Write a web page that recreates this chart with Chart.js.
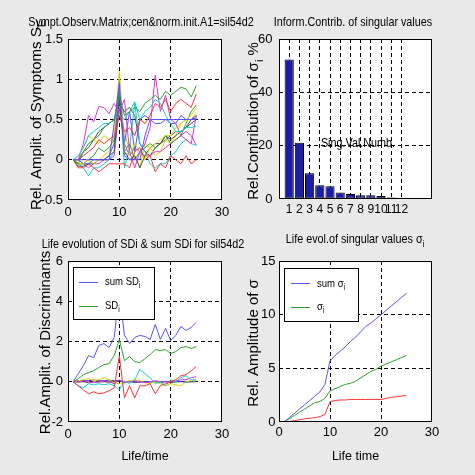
<!DOCTYPE html>
<html>
<head>
<meta charset="utf-8">
<script src="https://cdn.jsdelivr.net/npm/chart.js@4.4.1/dist/chart.umd.min.js"></script>
<style>
  html, body { margin: 0; padding: 0; background: #e9e9e9; }
  body { width: 475px; height: 475px; position: relative; overflow: hidden; }
  canvas { position: absolute; }
</style>
</head>
<body>
<canvas id="sympt" width="260" height="225" style="left:0;top:0"></canvas>
<canvas id="contrib" width="238" height="225" style="left:237px;top:0"></canvas>
<canvas id="discr" width="260" height="250" style="left:0;top:225px"></canvas>
<canvas id="sigma" width="238" height="250" style="left:237px;top:225px"></canvas>
<script>
// life time axis (x values of every line)
const lifeTime = [1, 2, 3, 4, 5, 6, 7, 8, 9, 10, 11, 12, 13, 14, 15, 16, 17, 18, 19, 20, 21, 22, 23, 24, 25];

// symptom observation matrix, one row per symptom
const symptoms = [
  [0, 0, 0, 0, 0, 0, 0, 0, 0.45, 0.95, 0.05, 0, 0, 0, 0.3, 0.5, 0.5, 0.5, 0.5, 0.5, 0.5, 0.5, 0.5, 0.5, 0.5],
  [0, -0.05, 0.1, 0.2, 0.25, 0.3, 0.4, 0.45, 0.5, 0.8, 0.55, 0.6, 0.65, 0.6, 0.7, 0.75, 0.8, 0.75, 0.85, 0.8, 0.85, 0.9, 0.88, 0.78, 0.92],
  [0, 0, 0.05, 0.1, 0.15, 0.25, 0.2, 0.25, 0.3, 0.55, 0.35, 0.4, 0.3, 0.5, 0.45, 0.55, 0.7, 0.65, 0.75, 0.6, 0.7, 0.75, 0.7, 0.65, 0.82],
  [0, 0.05, 0.15, 0.3, 0.35, 0.4, 0.45, 0.45, 0.5, 0.55, 0.5, 0.6, 0.72, 0.5, 0.6, 0.65, 0.75, 0.7, 0.55, 0.45, 0.35, 0.35, 0.4, 0.4, 0.42],
  [0, 0, 0.2, 0.55, 0.47, 0.66, 0.65, 0.57, 0.7, 0.6, 0.75, 0.1, -0.1, 0.1, 0.2, 0.4, 1.05, 0.6, 0.8, 0.5, 0.45, 0.3, 0.25, 0.2, 0.55],
  [0, -0.05, -0.05, 0, -0.05, 0, 0.05, 0.1, 0.3, 1.1, 0.1, 0.05, 0.2, 0.1, 0, 0.15, 0.2, 0.25, 0.3, 0.3, 0.4, 0.45, 0.5, 0.55, 0.65],
  [0, -0.08, -0.08, -0.05, -0.05, 0, 0, 0.05, 0.1, 0.75, 0.1, 0, 0.05, -0.1, 0.05, 0.15, 0.2, 0.2, 0.3, 0.25, 0.3, 0.35, 0.4, 0.5, 0.52],
  [0, 0, -0.05, -0.05, 0, 0, 0, 0.05, 0.2, 1.0, 0.2, 0.6, 0.1, 0.5, 0.55, 0.5, 0.45, 0.45, 0.5, 0.45, 0.45, 0.55, 0.5, 0.5, 0.55],
  [0, -0.05, -0.05, 0, 0.05, 0.15, 0.1, 0.15, 0.25, 0.85, 0.1, 0.2, 0, 0.1, 0.15, 0.2, 0.15, 0.2, 0.3, 0.2, 0.25, 0.3, 0.45, 0.6, 0.68],
  [0, -0.1, -0.1, -0.05, -0.1, -0.15, -0.1, -0.05, -0.05, -0.05, -0.05, -0.1, 0.1, 0.15, 0, 0.05, -0.15, -0.05, -0.1, 0.05, 0, -0.05, 0.05, -0.05, 0],
  [0, -0.05, -0.1, -0.2, -0.1, -0.1, -0.05, 0, 0.1, 0.9, -0.1, 0.15, 0.7, 0.2, 0.1, -0.05, -0.1, -0.05, -0.05, 0.05, 0.1, 0.2, 0.25, 0.2, 0.18],
  [0, -0.05, -0.05, -0.1, -0.05, -0.05, 0, 0, 0.05, 0.65, 0.2, 0.05, 0.15, 0.1, 0.05, 0.05, 0.1, 0.1, 0.15, 0.2, 0.25, 0.3, 0.35, 0.3, 0.18],
  [0, 0.05, 0.15, 0.3, 0.25, 0.2, 0.3, 0.25, 0.2, 0.6, 0.35, 0.1, 0.05, -0.1, 0.2, 0.15, 0.05, 0.1, 0.25, 0.2, 0.3, 0.45, 0.5, 0.5, 0.58],
  [0, 0, 0.1, 0.15, 0.25, 0.35, 0.4, 0.45, 0.5, 0.7, 0.6, 0.65, 0.55, 0.2, 0.1, 0.05, 0.15, 0.2, 0.25, 0.3, 0.35, 0.35, 0.4, 0.45, 0.5]
];

// singular value contributions in %
const singNumbers = [1, 2, 3, 4, 5, 6, 7, 8, 9, 10, 11, 12];
const singContrib = [52.3, 21.1, 9.7, 5.2, 4.8, 2.4, 1.9, 1.4, 1.4, 1.1, 0.6, 0.5];

// symptom discriminants
const sumSD = [0, 0.4, 0.8, 1.3, 1.2, 1.8, 1.9, 1.7, 2.2, 4.5, 2.3, 1.9, 2.2, 2.3, 2.25, 2.1, 2.85, 2.1, 2.65, 2.05, 2.3, 2.75, 2.55, 2.7, 2.95];
const sd1 = [0, 0.15, 0.35, 0.45, 0.55, 0.7, 0.85, 0.9, 1.3, 2.1, 1.05, 1.25, 1.0, 0.95, 1.15, 1.35, 1.6, 1.55, 1.6, 1.4, 1.5, 1.7, 1.75, 1.65, 1.75];
const sdOthers = [
  [0, -0.2, -0.4, -0.6, -0.5, -0.6, -0.55, -0.45, -0.3, 1.3, -0.8, -0.2, -0.8, -0.2, -0.2, -0.1, -0.6, -0.2, -0.1, 0, 0.1, 0.3, 0.35, 0.55, 0.75],
  [0, -0.2, -0.3, -0.1, -0.15, -0.1, -0.15, -0.1, -0.2, -0.4, 0.05, -0.1, 0.1, 0.6, 0.4, 0.2, -0.1, 0, -0.2, 0.1, 0, 0.2, 0.3, 0.1, 0.1],
  [0, 0, 0.05, 0, -0.05, 0, 0.05, 0, -0.1, 0.1, -0.05, 0, 0.05, 0, -0.05, 0, 0.05, 0, 0, 0, 0.05, 0.1, 0.1, 0.2, 0.25],
  [0, 0.05, 0.1, 0.15, 0.05, 0.1, 0.2, 0.1, -0.05, -0.1, 0, 0.05, 0.1, 0.05, -0.05, -0.1, 0, -0.1, -0.2, -0.1, -0.15, -0.2, 0, 0.05, 0.05],
  [0, 0.05, 0.05, 0.05, 0.08, 0.05, 0.05, 0.08, 0.05, 0.05, 0, 0.02, 0, -0.02, 0, 0, 0.02, 0, 0.02, 0, 0, 0.02, 0, 0, 0.02],
  [0, -0.02, 0, -0.05, 0, -0.02, 0, -0.03, 0, 0.05, -0.05, 0, -0.05, 0, 0.02, -0.02, 0, -0.05, 0, -0.05, 0, 0, -0.02, 0, 0]
];

// singular values
const sumSigma = [0, 0.4, 0.8, 1.2, 1.6, 2.0, 2.4, 2.8, 3.5, 5.7, 6.2, 6.6, 7.0, 7.5, 7.9, 8.4, 8.9, 9.2, 9.6, 10.0, 10.4, 10.8, 11.2, 11.6, 12.0];
const sigma1 = [0, 0.3, 0.6, 0.9, 1.2, 1.5, 1.8, 1.9, 2.2, 2.9, 3.1, 3.3, 3.5, 3.6, 3.8, 4.1, 4.4, 4.7, 4.9, 5.2, 5.4, 5.6, 5.8, 6.0, 6.2];
const sigma2 = [0, 0.05, 0.12, 0.2, 0.3, 0.35, 0.4, 0.5, 0.7, 1.9, 2.0, 2.05, 2.05, 2.1, 2.1, 2.1, 2.1, 2.1, 2.1, 2.1, 2.2, 2.3, 2.35, 2.4, 2.5];

const lineColors = ['#5555ff', '#2fa02f', '#ff3535', '#10d0d0', '#e035e0', '#d8d800', '#505050'];

const FONT = "'Liberation Sans', Arial, sans-serif";
const NARROW_SX = 0.83; // horizontal squeeze used for the narrow horizontal texts

function drawRich(ctx, t) {
  const size = t.size;
  const sx = t.rot ? 1 : (t.sx || NARROW_SX);
  ctx.save();
  ctx.translate(t.x, t.y);
  if (t.rot) ctx.rotate(-Math.PI / 2);
  ctx.scale(sx, 1);
  ctx.textBaseline = 'alphabetic';
  ctx.textAlign = 'left';
  ctx.fillStyle = '#000';
  const fontOf = p => (p.sub ? size * 0.72 : size) + 'px ' + FONT;
  let w = 0;
  t.parts.forEach(p => { ctx.font = fontOf(p); w += ctx.measureText(p.t).width; });
  let cx = t.left ? 0 : -w / 2;
  t.parts.forEach(p => {
    ctx.font = fontOf(p);
    ctx.fillText(p.t, cx, p.sub ? size * 0.3 : 0);
    cx += ctx.measureText(p.t).width;
  });
  ctx.restore();
}

const matlabLook = {
  id: 'matlabLook',
  beforeDraw(chart) {
    const a = chart.chartArea, ctx = chart.ctx;
    ctx.save();
    ctx.fillStyle = '#fff';
    ctx.fillRect(a.left, a.top, a.right - a.left, a.bottom - a.top);
    ctx.restore();
  },
  afterDraw(chart, args, opts) {
    const a = chart.chartArea, ctx = chart.ctx;
    ctx.save();
    ctx.strokeStyle = '#000';
    ctx.lineWidth = 1;
    ctx.strokeRect(a.left + 0.5, a.top + 0.5, a.right - a.left - 1, a.bottom - a.top - 1);
    if (opts.legend) {
      const lg = opts.legend;
      ctx.fillStyle = '#fff';
      ctx.fillRect(lg.box[0], lg.box[1], lg.box[2], lg.box[3]);
      ctx.strokeRect(lg.box[0] + 0.5, lg.box[1] + 0.5, lg.box[2], lg.box[3]);
      lg.items.forEach(it => {
        ctx.strokeStyle = it.color;
        ctx.beginPath();
        ctx.moveTo(it.x1, it.y + 0.5);
        ctx.lineTo(it.x2, it.y + 0.5);
        ctx.stroke();
        drawRich(ctx, { parts: it.parts, x: it.tx, y: it.ty, size: 11.5, left: true });
      });
    }
    ctx.restore();
    (opts.texts || []).forEach(t => drawRich(ctx, t));
  }
};

function gridOn(vals) {
  return c => (c.tick && vals.includes(c.tick.value)) ? '#000' : 'rgba(0,0,0,0)';
}

function makeChart(id, cfg) {
  const [l, t, r, b] = cfg.area;
  const canvas = document.getElementById(id);
  const w = canvas.width, h = canvas.height;
  return new Chart(canvas, {
    type: cfg.type,
    data: { datasets: cfg.datasets },
    options: {
      responsive: false,
      animation: false,
      events: [],
      layout: { padding: { left: 0, top: t, right: w - r, bottom: 0 } },
      plugins: {
        legend: { display: false },
        tooltip: { enabled: false },
        matlabLook: { texts: cfg.texts, legend: cfg.legend }
      },
      scales: {
        x: {
          type: 'linear', offset: false,
          min: cfg.x.min, max: cfg.x.max,
          ticks: { stepSize: cfg.x.step, padding: cfg.x.pad, font: { family: FONT, size: cfg.x.size || 13 },
                   color: '#000', autoSkip: false, maxRotation: 0, callback: cfg.x.label || (v => String(v)) },
          grid: { drawTicks: false, offset: false, color: gridOn(cfg.x.grid), lineWidth: 1 },
          border: { display: false, dash: [4, 3] },
          title: { display: !!cfg.xTitle, text: cfg.xTitle, color: '#000',
                   font: { family: FONT, size: 12.5 }, padding: { top: 0, bottom: 10.6 } },
          afterFit: s => { s.height = h - b; }
        },
        y: {
          min: cfg.y.min, max: cfg.y.max,
          ticks: { stepSize: cfg.y.step, padding: cfg.y.pad, font: { family: FONT, size: 13 }, color: '#000',
                   callback: v => String(v) },
          grid: { drawTicks: false, color: gridOn(cfg.y.grid), lineWidth: 1 },
          border: { display: false, dash: [4, 3] },
          afterFit: s => { s.width = l; }
        }
      }
    },
    plugins: [matlabLook]
  });
}

function lineSet(values, color) {
  return {
    data: values.map((v, i) => ({ x: lifeTime[i], y: v })),
    borderColor: color, borderWidth: 1, pointRadius: 0, tension: 0, fill: false
  };
}

// top left: symptom observation matrix
makeChart('sympt', {
  type: 'line',
  area: [68, 39, 222, 200],
  datasets: symptoms.map((s, i) => lineSet(s, lineColors[i % lineColors.length])),
  x: { min: 0, max: 30, step: 10, pad: 5, grid: [10, 20] },
  y: { min: -0.5, max: 1.5, step: 0.5, pad: 5, grid: [0, 0.5, 1] },
  texts: [
    { parts: [{ t: 'Sympt.Observ.Matrix;cen&norm.init.A1=sil54d2' }], x: 141, y: 26, size: 13 },
    { parts: [{ t: 'Rel. Amplit. of Symptoms S' }, { t: 'E', sub: true }], x: 40.5, y: 115, size: 15, rot: true }
  ]
});

// top right: information contribution of singular values
makeChart('contrib', {
  type: 'bar',
  area: [42, 39, 195, 199],
  datasets: [{
    data: singNumbers.map((n, i) => ({ x: n, y: singContrib[i] })),
    backgroundColor: '#1c1ca8', borderColor: '#000', borderWidth: 1, borderSkipped: false,
    barPercentage: 0.9, categoryPercentage: 1
  }],
  x: { min: 0, max: 15, step: 1, pad: 3, size: 12, grid: singNumbers,
       label: v => singNumbers.includes(v) ? String(v) : '' },
  y: { min: 0, max: 60, step: 20, pad: 6.5, grid: [20, 40] },
  texts: [
    { parts: [{ t: 'Inform.Contrib. of singular values' }], x: 116, y: 26, size: 13 },
    { parts: [{ t: 'Rel.Contribution of \u03c3' }, { t: 'i', sub: true }, { t: ' %' }], x: 21, y: 121, size: 15, rot: true },
    { parts: [{ t: 'Sing.Val.Numb.' }], x: 121, y: 146.7, size: 13 }
  ]
});

// bottom left: discriminants
makeChart('discr', {
  type: 'line',
  area: [68, 36, 222, 197],
  datasets: [lineSet(sumSD, lineColors[0]), lineSet(sd1, lineColors[1])]
    .concat(sdOthers.map((s, i) => lineSet(s, ['#ff3535', '#10d0d0', '#e035e0', '#d8d800', '#3030c0', '#606060'][i]))),
  x: { min: 0, max: 30, step: 10, pad: 5, grid: [10, 20] },
  y: { min: -2, max: 6, step: 2, pad: 5, grid: [0, 2, 4] },
  xTitle: 'Life/time',
  texts: [
    { parts: [{ t: 'Life evolution of SDi & sum SDi for sil54d2' }], x: 143, y: 23.3, size: 13 },
    { parts: [{ t: 'Rel.Amplit. of Discriminants' }], x: 50, y: 117.5, size: 15, rot: true }
  ],
  legend: {
    box: [73, 42, 81, 52],
    items: [
      { color: lineColors[0], y: 57, x1: 79, x2: 98, tx: 105, ty: 60, parts: [{ t: 'sum SD' }, { t: 'i', sub: true }] },
      { color: lineColors[1], y: 81, x1: 79, x2: 98, tx: 105, ty: 84, parts: [{ t: 'SD' }, { t: 'i', sub: true }] }
    ]
  }
});

// bottom right: singular values
makeChart('sigma', {
  type: 'line',
  area: [42, 36, 195, 197],
  datasets: [lineSet(sumSigma, lineColors[0]), lineSet(sigma1, lineColors[1]), lineSet(sigma2, lineColors[2])],
  x: { min: 0, max: 30, step: 10, pad: 2.5, grid: [10, 20] },
  y: { min: 0, max: 15, step: 5, pad: 3.5, grid: [5, 10] },
  xTitle: 'Life time',
  texts: [
    { parts: [{ t: 'Life evol.of singular values \u03c3' }, { t: 'i', sub: true }], x: 118, y: 17.7, size: 13 },
    { parts: [{ t: 'Rel. Amplitude of \u03c3' }], x: 21.3, y: 118, size: 15, rot: true }
  ],
  legend: {
    box: [47, 43, 74, 53],
    items: [
      { color: lineColors[0], y: 58, x1: 54, x2: 73, tx: 80, ty: 61.7, parts: [{ t: 'sum \u03c3' }, { t: 'i', sub: true }] },
      { color: lineColors[1], y: 82, x1: 54, x2: 73, tx: 80, ty: 85, parts: [{ t: '\u03c3' }, { t: 'i', sub: true }] }
    ]
  }
});
</script>
</body>
</html>
